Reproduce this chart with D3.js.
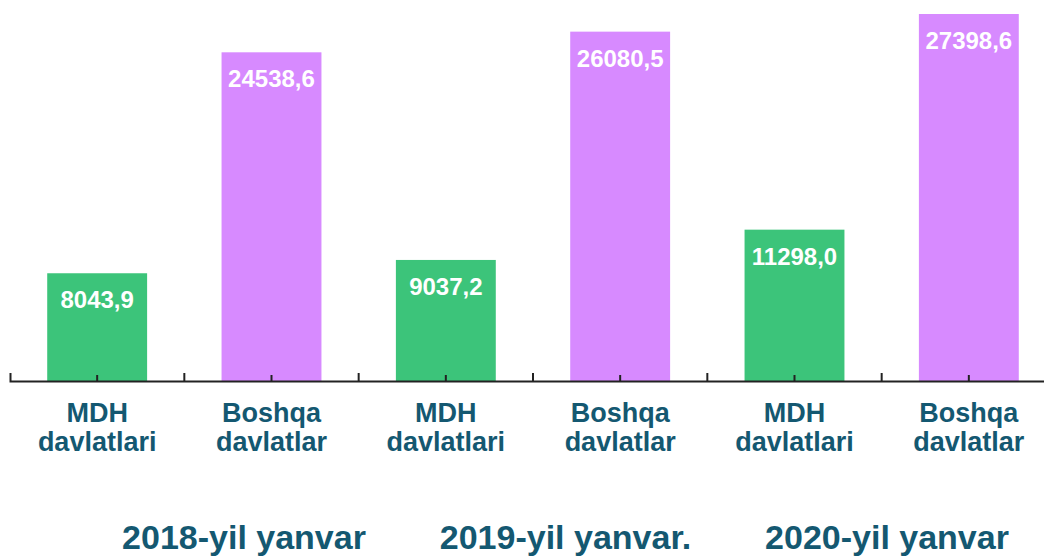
<!DOCTYPE html>
<html>
<head>
<meta charset="utf-8">
<script src="https://cdn.jsdelivr.net/npm/d3@7"></script>
<style>
  html, body { margin: 0; padding: 0; background: #ffffff; }
  svg { display: block; font-family: "Liberation Sans", Arial, sans-serif; }
</style>
</head>
<body>
<script>
// chart data
var categories = ["MDH davlatlari", "Boshqa davlatlar", "MDH davlatlari", "Boshqa davlatlar", "MDH davlatlari", "Boshqa davlatlar"];
var categoryLines = [["MDH", "davlatlari"], ["Boshqa", "davlatlar"]];
var values = [8043.9, 24538.6, 9037.2, 26080.5, 11298.0, 27398.6];
var valueLabels = ["8043,9", "24538,6", "9037,2", "26080,5", "11298,0", "27398,6"];
var groupLabels = ["2018-yil yanvar", "2019-yil yanvar.", "2020-yil yanvar"];
var colors = ["#3cc47a", "#d78aff"];

var width = 1044, height = 557;
var axisY = 381;

var svg = d3.select("body").append("svg")
    .attr("width", width)
    .attr("height", height);

var keys = d3.range(values.length);

// one band per bar, boundaries fall on the axis ticks
var x = d3.scaleBand()
    .domain(keys)
    .range([10, 1056])
    .paddingInner(0.427)
    .paddingOuter(0.2135);

var y = d3.scaleLinear()
    .domain([0, d3.max(values)])
    .range([axisY, 14]);

var yearX = d3.scalePoint()
    .domain(groupLabels)
    .range([244, 887]);

// bars
svg.append("g").selectAll("rect")
    .data(keys)
    .join("rect")
    .attr("x", function (d) { return x(d); })
    .attr("y", function (d) { return y(values[d]); })
    .attr("width", x.bandwidth())
    .attr("height", function (d) { return axisY - y(values[d]); })
    .attr("fill", function (d) { return colors[d % 2]; });

// value labels inside bars
svg.append("g").selectAll("text")
    .data(keys)
    .join("text")
    .attr("x", function (d) { return x(d) + x.bandwidth() / 2; })
    .attr("y", function (d) { return y(values[d]) + 35; })
    .attr("text-anchor", "middle")
    .attr("fill", "#ffffff")
    .attr("font-weight", "bold")
    .attr("font-size", 24)
    .text(function (d) { return valueLabels[d]; });

// axis with small ticks at band centres
var axis = d3.axisTop(x)
    .tickSize(6)
    .tickSizeOuter(8)
    .tickFormat("");

var axisG = svg.append("g")
    .attr("transform", "translate(0," + axisY + ")")
    .call(axis);
axisG.select(".domain").attr("stroke", "#222").attr("stroke-width", 2);
axisG.selectAll(".tick line").attr("stroke", "#222").attr("stroke-width", 2);

// ticks between bands
axisG.append("g").selectAll("line")
    .data(d3.range(1, values.length))
    .join("line")
    .attr("x1", function (d) { return x(d) - x.step() * x.paddingInner() / 2; })
    .attr("x2", function (d) { return x(d) - x.step() * x.paddingInner() / 2; })
    .attr("y1", 0)
    .attr("y2", -8)
    .attr("stroke", "#222")
    .attr("stroke-width", 2);

// category labels
var cat = svg.append("g").selectAll("text")
    .data(keys)
    .join("text")
    .attr("text-anchor", "middle")
    .attr("fill", "#145871")
    .attr("font-weight", "bold")
    .attr("font-size", 27);

cat.selectAll("tspan")
    .data(function (d) {
        return categoryLines[d % 2].map(function (t, i) { return { t: t, i: i, k: d }; });
    })
    .join("tspan")
    .attr("x", function (d) { return x(d.k) + x.bandwidth() / 2; })
    .attr("y", function (d) { return 422 + d.i * 29; })
    .text(function (d) { return d.t; });

// year labels
svg.append("g").selectAll("text")
    .data(groupLabels)
    .join("text")
    .attr("x", function (d) { return yearX(d); })
    .attr("y", 549)
    .attr("text-anchor", "middle")
    .attr("fill", "#145871")
    .attr("font-weight", "bold")
    .attr("font-size", 34)
    .text(function (d) { return d; });
</script>
</body>
</html>
